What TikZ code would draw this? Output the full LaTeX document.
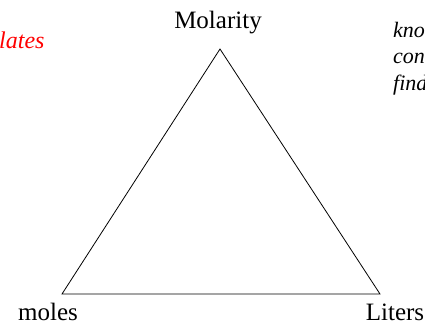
\documentclass[tikz,border=0pt]{standalone}
\usepackage{fontspec}
\setmainfont{Liberation Serif}
\begin{document}
\begin{tikzpicture}[x=1pt,y=-1pt,
  vlabel/.style={font=\fontsize{25}{30}\selectfont, inner sep=0pt, anchor=base},
  note/.style={font=\fontsize{22}{27}\selectfont\itshape, inner sep=0pt, anchor=base west},
  edge/.style={draw=black, line width=0.8pt, line join=miter}]
\useasboundingbox (0,0) rectangle (425,322);
\clip (0,0) rectangle (425,322);
\coordinate (top) at (220,49);
\coordinate (bl) at (62,294);
\coordinate (br) at (380,294);
\draw[edge] (top) -- (bl) -- (br) -- cycle;
\node[vlabel] (mol) at (218,28) {Molarity};
\node[vlabel] (moles) at (48,320) {moles};
\node[vlabel] (lit) at (395,320) {Liters};
\node[note, text=red, font=\fontsize{24}{28}\selectfont\itshape] (rel) at (-1,48) {lates};
\node[note] (n1) at (393,37) {know};
\node[note] (n2) at (393,63) {con};
\node[note] (n3) at (393,90) {find};
\end{tikzpicture}
\end{document}
